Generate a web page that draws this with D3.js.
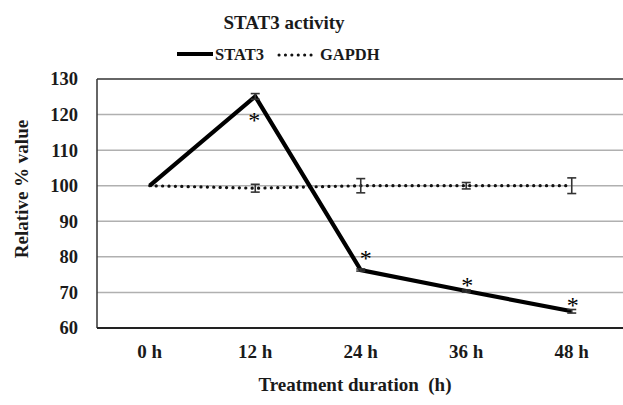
<!DOCTYPE html>
<html><head><meta charset="utf-8">
<script src="https://cdn.jsdelivr.net/npm/d3@7/dist/d3.min.js"></script>
<style>body{margin:0;background:#fff}svg{display:block}svg text{font-family:"Liberation Serif","DejaVu Serif",serif !important;font-weight:bold;fill:#1a1a1a}</style>
</head><body>
<script>
const categories = ["0 h","12 h","24 h","36 h","48 h"];
const stat3 = [100, 125.1, 76.3, 70.4, 64.7];
const stat3Err = [0, 0.8, 0.3, 0.3, 0.5];
const gapdh = [100, 99.3, 100, 100, 100];
const gapdhErr = [0, 1.1, 2.0, 0.9, 2.2];
const stat3Sig = [false, true, true, true, true];
const yTicks = [60,70,80,90,100,110,120,130];
const title = "STAT3 activity";
const xTitle = "Treatment duration\u00a0\u00a0(h)";
const yTitle = "Relative % value";

const W=623,H=405;
const svg=d3.select("body").append("svg").attr("width",W).attr("height",H);
const x=d3.scaleBand().domain(categories).range([97,624.5]);
const y=d3.scaleLinear().domain([60,130]).range([328,79]);
const cx=d=>x(d)+x.bandwidth()/2;

svg.append("g").selectAll("line").data(yTicks.slice(1,-1)).join("line")
  .attr("x1",97).attr("x2",W).attr("y1",d=>y(d)).attr("y2",d=>y(d))
  .attr("stroke","#b0b0b0").attr("stroke-width",1.5);
svg.append("line").attr("x1",97).attr("x2",W).attr("y1",y(130)).attr("y2",y(130)).attr("stroke","#333").attr("stroke-width",1.5);
svg.append("line").attr("x1",97).attr("x2",97).attr("y1",y(130)).attr("y2",y(60)).attr("stroke","#333").attr("stroke-width",1.5);

const ya=svg.append("g").attr("transform","translate(97,0)").call(d3.axisLeft(y).tickValues(yTicks).tickSize(0).tickPadding(19));
ya.attr("font-family",null);
ya.select(".domain").remove();
ya.selectAll("text").attr("font-size",18.5).attr("fill",null);
const xa=svg.append("g").attr("transform","translate(0,"+y(60)+")").call(d3.axisBottom(x).tickSize(0).tickPadding(17));
xa.attr("font-family",null);
xa.select(".domain").attr("stroke","#222").attr("stroke-width",2.2).attr("d","M97,0H"+W);
xa.selectAll("text").attr("font-size",19).attr("fill",null);

function errBars(vals,errs,col){
  const g=svg.append("g").attr("stroke",col).attr("stroke-width",1.6);
  categories.forEach((c,i)=>{
    if(!errs[i]) return;
    const X=cx(c),y1=y(vals[i]+errs[i]),y2=y(vals[i]-errs[i]);
    g.append("line").attr("x1",X).attr("x2",X).attr("y1",y1).attr("y2",y2);
    g.append("line").attr("x1",X-4.5).attr("x2",X+4.5).attr("y1",y1).attr("y2",y1);
    g.append("line").attr("x1",X-4.5).attr("x2",X+4.5).attr("y1",y2).attr("y2",y2);
  });
}
const line=d3.line().x((d,i)=>cx(categories[i])).y(d=>y(d));
svg.append("path").datum(gapdh).attr("d",line).attr("fill","none").attr("stroke","#111")
  .attr("stroke-width",3.2).attr("stroke-linecap","round").attr("stroke-dasharray","0.1 6.3");
errBars(gapdh,gapdhErr,"#333");
svg.append("path").datum(stat3).attr("d",line).attr("fill","none").attr("stroke","#000")
  .attr("stroke-width",4.2).attr("stroke-linejoin","miter");
errBars(stat3,stat3Err,"#333");

categories.forEach((c,i)=>{
  if(!stat3Sig[i]) return;
  const above = stat3[i] < 100;
  const steep = above && i>0 && stat3[i-1]-stat3[i] > 20;
  svg.append("text").attr("x",cx(c)+(steep?5:(i===1?-1:1))).attr("y",y(stat3[i])+(above?(steep?-4:2):32))
    .attr("text-anchor","middle").attr("font-size",24).style("font-weight","normal").style("fill","#000").text("*");
});

svg.append("text").attr("x",284).attr("y",29).attr("text-anchor","middle").attr("font-size",19).text(title);
svg.append("line").attr("x1",177).attr("x2",213).attr("y1",54).attr("y2",54).attr("stroke","#000").attr("stroke-width",4);
svg.append("text").attr("x",215).attr("y",60).attr("font-size",16.5).text("STAT3");
svg.append("line").attr("x1",279).attr("x2",312).attr("y1",55).attr("y2",55).attr("stroke","#111")
  .attr("stroke-width",3).attr("stroke-linecap","round").attr("stroke-dasharray","0.1 6.3");
svg.append("text").attr("x",320).attr("y",60).attr("font-size",16.5).text("GAPDH");
svg.append("text").attr("x",355).attr("y",391).attr("text-anchor","middle").attr("font-size",19).text(xTitle);
svg.append("text").attr("transform","translate(28,189) rotate(-90)").attr("text-anchor","middle").attr("font-size",19).text(yTitle);
</script>
</body></html>
